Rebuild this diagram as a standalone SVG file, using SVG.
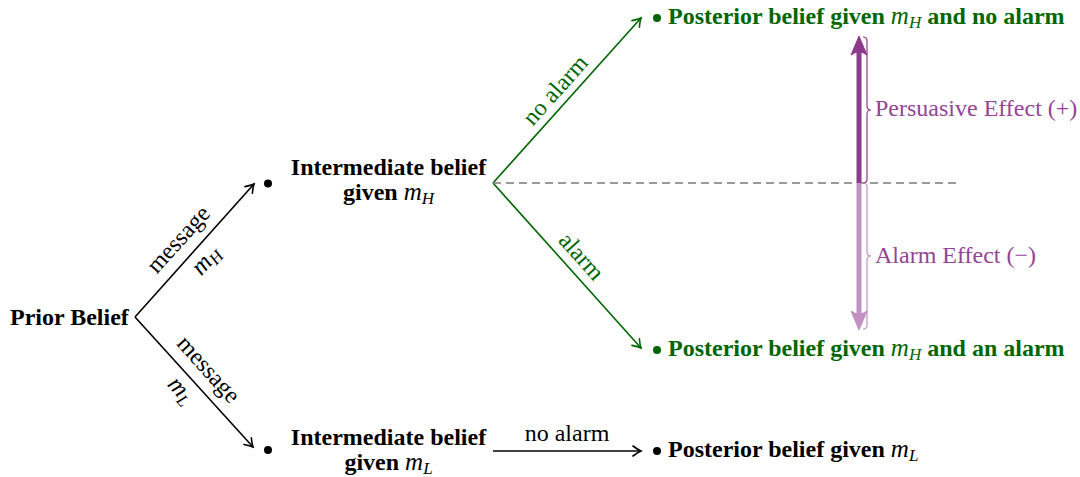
<svg xmlns="http://www.w3.org/2000/svg" width="1080" height="477" viewBox="0 0 1080 477">
<defs>
<style>
text{font-family:"Liberation Serif","Times New Roman",serif;font-size:24px}
.b{font-weight:bold}
.m{font-style:italic;font-weight:normal;font-size:25px}
.s{font-style:italic;font-weight:normal;font-size:17px}
.g{fill:#006600}
.p{fill:#944494}
.blk{stroke:#000;stroke-width:1.6;fill:none}
.grn{stroke:#006600;stroke-width:1.6;fill:none}
</style>
<marker id="ab" viewBox="-10 -6 12 12" markerWidth="12" markerHeight="12" refX="0" refY="0" orient="auto" markerUnits="userSpaceOnUse">
<path d="M-8,-5 Q-3,-1.2 0,0 Q-3,1.2 -8,5" fill="none" stroke="#000" stroke-width="1.6" stroke-linecap="round"/>
</marker>
<marker id="ag" viewBox="-10 -6 12 12" markerWidth="12" markerHeight="12" refX="0" refY="0" orient="auto" markerUnits="userSpaceOnUse">
<path d="M-8,-5 Q-3,-1.2 0,0 Q-3,1.2 -8,5" fill="none" stroke="#006600" stroke-width="1.6" stroke-linecap="round"/>
</marker>
</defs>

<g id="connectors">
<line class="blk" x1="135" y1="317" x2="254" y2="184" marker-end="url(#ab)"/>
<line class="blk" x1="135" y1="317" x2="253" y2="447" marker-end="url(#ab)"/>
<line class="grn" x1="493" y1="183" x2="641" y2="18" marker-end="url(#ag)"/>
<line class="grn" x1="493" y1="183" x2="641" y2="348" marker-end="url(#ag)"/>
<line class="blk" x1="493" y1="451" x2="641" y2="451" marker-end="url(#ab)"/>
<line x1="493" y1="183" x2="960" y2="183" stroke="#7a7a7a" stroke-width="1.5" stroke-dasharray="8,5"/>
<text transform="translate(193,252.5) rotate(-47.9)" text-anchor="middle" y="-12">message</text>
<text transform="translate(195,250.5) rotate(-47.9)" text-anchor="middle" y="22"><tspan class="m">m</tspan><tspan class="s" dy="4">H</tspan></text>
<text transform="translate(194,382.5) rotate(48)" text-anchor="middle" y="-12">message</text>
<text transform="translate(192,380.5) rotate(48)" text-anchor="middle" y="22"><tspan class="m">m</tspan><tspan class="s" dy="4">L</tspan></text>
<text class="g" transform="translate(567,100.5) rotate(-48.1)" text-anchor="middle" y="-8">no alarm</text>
<text class="g" transform="translate(569,267.5) rotate(48.1)" text-anchor="middle" y="-9">alarm</text>
<text x="567" y="441" text-anchor="middle">no alarm</text>
</g>

<g id="effects">
<line x1="859" y1="183" x2="859" y2="50" stroke="#8c3a8c" stroke-width="5"/>
<path d="M859,36 L867,55 Q859,49 851,55 Z" fill="#8c3a8c" stroke="#8c3a8c" stroke-width="1" stroke-linejoin="round"/>
<line x1="859" y1="183" x2="859" y2="315" stroke="#c192c1" stroke-width="5"/>
<path d="M859,330 L867,311 Q859,317 851,311 Z" fill="#c192c1" stroke="#c192c1" stroke-width="1" stroke-linejoin="round"/>
<path d="M863,37 Q867,37 867,41 L867,106 Q867,110 871,110 Q867,110 867,114 L867,179 Q867,183 863,183" fill="none" stroke="#8c3a8c" stroke-width="1.2"/>
<path d="M863,183 Q867,183 867,187 L867,252 Q867,256 871,256 Q867,256 867,260 L867,325 Q867,329 863,329" fill="none" stroke="#c192c1" stroke-width="1.2"/>
<text class="p" x="875" y="116">Persuasive Effect (+)</text>
<text class="p" x="875" y="263">Alarm Effect (−)</text>
</g>

<g id="prior">
<text class="b" x="10" y="325">Prior Belief</text>
</g>

<g id="intermediate-high">
<circle cx="268" cy="183.5" r="4"/>
<text class="b" x="388.5" y="175" text-anchor="middle">Intermediate belief</text>
<text class="b" x="388.5" y="200" text-anchor="middle">given <tspan class="m">m</tspan><tspan class="s" dy="4">H</tspan></text>
</g>

<g id="intermediate-low">
<circle cx="268" cy="450" r="4"/>
<text class="b" x="388.5" y="445" text-anchor="middle">Intermediate belief</text>
<text class="b" x="388.5" y="470" text-anchor="middle">given <tspan class="m">m</tspan><tspan class="s" dy="4">L</tspan></text>
</g>

<g id="posterior-high-noalarm">
<circle cx="657" cy="18" r="4" fill="#006600"/>
<text class="b g" x="668" y="24">Posterior belief given <tspan class="m">m</tspan><tspan class="s" dy="4">H</tspan><tspan dy="-4"> and no alarm</tspan></text>
</g>

<g id="posterior-high-alarm">
<circle cx="657" cy="350" r="4" fill="#006600"/>
<text class="b g" x="668" y="356">Posterior belief given <tspan class="m">m</tspan><tspan class="s" dy="4">H</tspan><tspan dy="-4"> and an alarm</tspan></text>
</g>

<g id="posterior-low">
<circle cx="657" cy="451" r="4"/>
<text class="b" x="668" y="457">Posterior belief given <tspan class="m">m</tspan><tspan class="s" dy="4">L</tspan></text>
</g>
</svg>
